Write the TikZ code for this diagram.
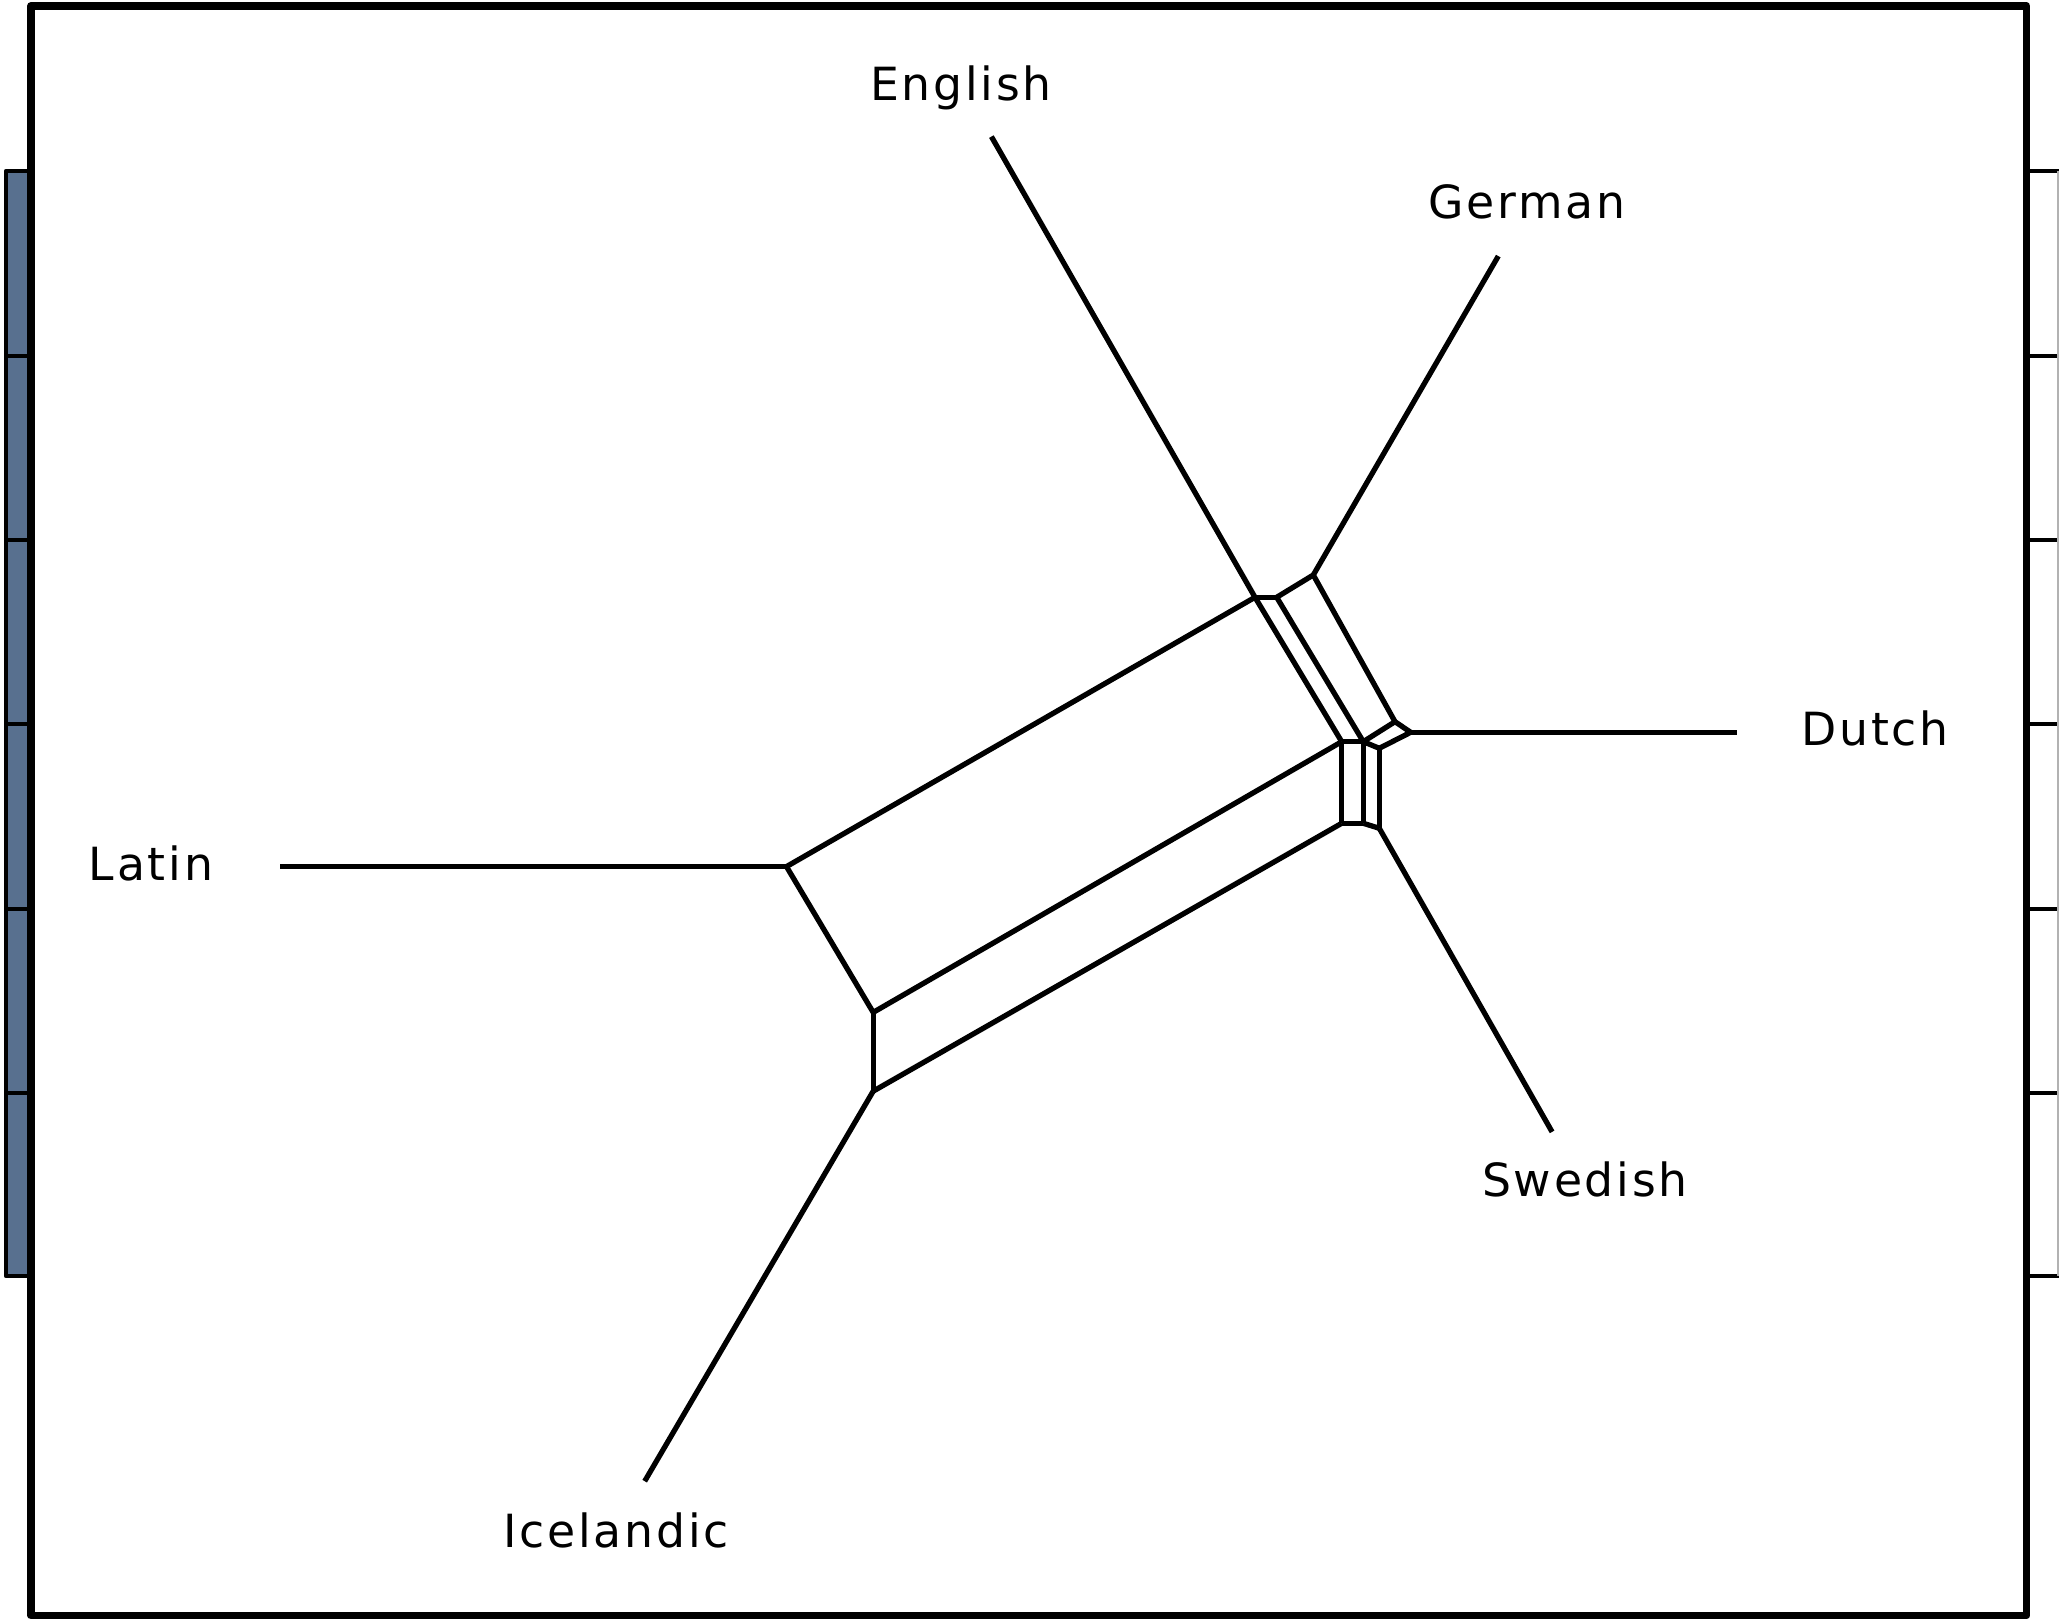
\documentclass[tikz,border=0pt]{standalone}
\usepackage{fontspec}
\usepackage{tikz}
\usepackage{xcolor}
\newfontfamily\langfont[LetterSpace=6]{DejaVu Sans}
\definecolor{tabblue}{RGB}{88,112,143}

\begin{document}
\begin{tikzpicture}[x=0.01cm, y=-0.01cm, line width=1.5pt, line join=round,
  lang/.style={font=\langfont\fontsize{13}{15}\selectfont, anchor=base, inner sep=0pt}]
\useasboundingbox (0,0) rectangle (2059,1619);
% side tabs
\foreach \a/\b in {171/356,356/540,540/724,724/909,909/1093,1093/1276} {
  \draw[fill=tabblue, line width=1.2pt] (6,\a) rectangle (31,\b);
  \draw[line width=1.2pt] (2030,\a) -- (2059,\a);
}
\draw[line width=1.2pt] (2030,1276) -- (2059,1276);
\draw[gray!60, line width=0.5pt] (2058,171) -- (2058,1276);
\draw[line width=2.2pt] (31,6) rectangle (2026.5,1615.5);
% split nodes
\coordinate (L) at (786.5,866.6);
\coordinate (A) at (873.2,1012.4);
\coordinate (I) at (873.2,1091.2);
\coordinate (E1) at (1255,597.3);
\coordinate (E2) at (1276.7,597.3);
\coordinate (G1) at (1313.3,575);
\coordinate (D1) at (1395,721.7);
\coordinate (Dn) at (1410.7,732.3);
\coordinate (P1) at (1341.7,741.7);
\coordinate (P2) at (1363.3,741.7);
\coordinate (P3) at (1379.3,748.3);
\coordinate (B1) at (1341.7,823.3);
\coordinate (B2) at (1363.3,823.3);
\coordinate (B3) at (1379.3,828.3);
% leaf ends
\coordinate (latinEnd) at (279.7,866.6);
\coordinate (icelEnd) at (644.7,1481.2);
\coordinate (englEnd) at (991.4,136.6);
\coordinate (germEnd) at (1498.3,256.1);
\coordinate (dutchEnd) at (1737.2,732.3);
\coordinate (swedEnd) at (1552.1,1131.9);
% labels
\node[lang] (latin) at (151,881) {Latin};
\node[lang] (icelandic) at (616,1548) {Icelandic};
\node[lang] (english) at (961,101) {English};
\node[lang] (german) at (1527,219) {German};
\node[lang] (dutch) at (1875,746) {Dutch};
\node[lang] (swedish) at (1585,1197) {Swedish};
% edges
\foreach \i/\j in {L/latinEnd, L/A, L/E1, A/I, A/P1, I/B1, I/icelEnd,
  E1/englEnd, E1/E2, E1/P1, E2/G1, E2/P2, G1/germEnd, G1/D1, D1/Dn, D1/P2,
  Dn/dutchEnd, Dn/P3, P1/P2, P2/P3, P1/B1, P2/B2, P3/B3, B1/B2, B2/B3, B3/swedEnd} {
  \draw (\i) -- (\j);
}
\end{tikzpicture}
\end{document}
